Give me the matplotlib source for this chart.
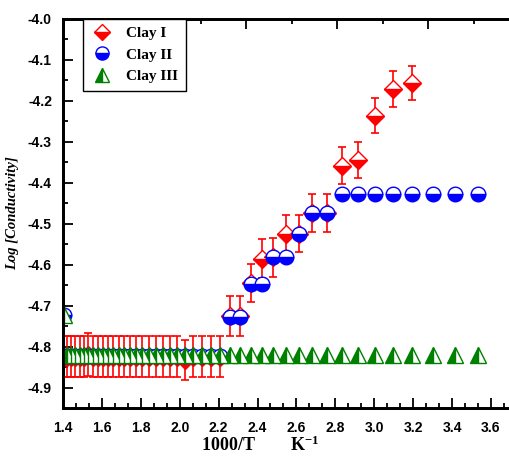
import matplotlib
matplotlib.use('Agg')
import matplotlib.pyplot as plt
from matplotlib.ticker import MultipleLocator, AutoMinorLocator, FormatStrFormatter

# 1000/T values (K^-1)
inv_t = [1.403, 1.422, 1.443, 1.464, 1.486, 1.508, 1.531, 1.555, 1.580, 1.605,
         1.631, 1.658, 1.686, 1.715, 1.745, 1.776, 1.808, 1.842, 1.876, 1.912,
         1.949, 1.988, 2.028, 2.070, 2.114, 2.160, 2.208, 2.257, 2.309, 2.364,
         2.421, 2.481, 2.545, 2.611, 2.681, 2.755, 2.833, 2.915, 3.003, 3.096,
         3.195, 3.300, 3.413, 3.534]

clay1_y = [-4.825, -4.825, -4.825, -4.825, -4.825, -4.825, -4.820, -4.825, -4.825, -4.825,
           -4.825, -4.825, -4.825, -4.825, -4.825, -4.825, -4.825, -4.825, -4.825, -4.825,
           -4.825, -4.825, -4.832, -4.825, -4.825, -4.825, -4.825, -4.725, -4.725, -4.645,
           -4.585, -4.582, -4.524, -4.524, -4.474, -4.474, -4.358, -4.344, -4.236, -4.171,
           -4.157]
clay1_err = [0.05, 0.05, 0.05, 0.05, 0.05, 0.05, 0.052, 0.05, 0.05, 0.05,
             0.05, 0.05, 0.05, 0.05, 0.05, 0.05, 0.05, 0.05, 0.05, 0.05,
             0.05, 0.05, 0.049, 0.05, 0.05, 0.05, 0.05, 0.048, 0.048, 0.047,
             0.047, 0.047, 0.046, 0.046, 0.046, 0.046, 0.045, 0.044, 0.043, 0.043,
             0.042]

clay2_y = [-4.722, -4.823, -4.823, -4.823, -4.823, -4.823, -4.823, -4.823, -4.823, -4.823,
           -4.823, -4.823, -4.823, -4.823, -4.823, -4.823, -4.823, -4.823, -4.823, -4.823,
           -4.823, -4.823, -4.823, -4.823, -4.823, -4.823, -4.823, -4.728, -4.728, -4.646,
           -4.646, -4.582, -4.582, -4.524, -4.474, -4.474, -4.427, -4.427, -4.427, -4.427,
           -4.427, -4.427, -4.427, -4.427]

clay3_y = [-4.722, -4.820, -4.820, -4.820, -4.820, -4.820, -4.820, -4.820, -4.820, -4.820,
           -4.820, -4.820, -4.820, -4.820, -4.820, -4.820, -4.820, -4.820, -4.820, -4.820,
           -4.820, -4.820, -4.820, -4.820, -4.820, -4.820, -4.820, -4.820, -4.820, -4.820,
           -4.820, -4.820, -4.820, -4.820, -4.820, -4.820, -4.820, -4.820, -4.820, -4.820,
           -4.820, -4.820, -4.820, -4.820]

labels = ['Clay I', 'Clay II', 'Clay III']
top_major = [1.403, 1.871, 2.341, 2.810, 3.278]
top_minor = [1.639, 2.108, 2.576, 3.044, 3.513]

plt.rcParams['font.family'] = 'Liberation Sans'
plt.rcParams['font.weight'] = 'bold'
plt.rcParams['axes.unicode_minus'] = False
plt.rcParams['mathtext.fontset'] = 'custom'
plt.rcParams['mathtext.rm'] = 'Liberation Serif:bold'
plt.rcParams['mathtext.it'] = 'Liberation Serif:bold'
plt.rcParams['mathtext.bf'] = 'Liberation Serif:bold'
plt.rcParams['mathtext.default'] = 'rm'

fig = plt.figure(figsize=(5.1, 4.65), dpi=100)
ax = fig.add_axes([63/510, 57/465, 447/510, 389/465])

n1 = len(clay1_y)
ax.errorbar(inv_t[:n1], clay1_y, yerr=clay1_err, fmt='none', ecolor='red',
            elinewidth=1.2, capsize=3, capthick=1.2, zorder=2)
h1, = ax.plot(inv_t[:n1], clay1_y, ls='none', marker='D', ms=9, fillstyle='bottom',
              mfc='red', mfcalt='white', mec='red', mew=1, zorder=3)
h2, = ax.plot(inv_t, clay2_y, ls='none', marker='o', ms=10.5, fillstyle='bottom',
              mfc='blue', mfcalt='white', mec='blue', mew=1, zorder=4)
h3, = ax.plot(inv_t, clay3_y, ls='none', marker='^', ms=11, fillstyle='left',
              mfc='green', mfcalt='white', mec='green', mew=1, zorder=5)

ax.set_xlim(1.4, 3.698)
ax.set_ylim(-4.95, -4.0)
ax.xaxis.set_major_locator(MultipleLocator(0.2))
ax.xaxis.set_minor_locator(AutoMinorLocator(3))
ax.yaxis.set_major_locator(MultipleLocator(0.1))
ax.yaxis.set_minor_locator(AutoMinorLocator(2))
ax.xaxis.set_major_formatter(FormatStrFormatter('%.1f'))
ax.yaxis.set_major_formatter(FormatStrFormatter('%.1f'))
ax.tick_params(which='major', direction='in', length=7, width=1.3, labelsize=10)
ax.tick_params(which='minor', direction='in', length=3.5, width=1.3)
ax.tick_params(axis='x', pad=9)
ax.tick_params(axis='y', pad=8)
ax.spines['right'].set_visible(False)
for s in ['left', 'bottom', 'top']:
    ax.spines[s].set_linewidth(2)

ax_top = ax.twiny()
ax_top.set_xlim(ax.get_xlim())
ax_top.set_xticks(top_major)
ax_top.set_xticks(top_minor, minor=True)
ax_top.tick_params(which='major', direction='in', length=7, width=1.3, labeltop=False)
ax_top.tick_params(which='minor', direction='in', length=3.5, width=1.3)
ax_top.spines['right'].set_visible(False)
for s in ['left', 'bottom', 'top']:
    ax_top.spines[s].set_linewidth(2)

ax.set_xlabel('1000/T        K$^{-1}$', family='Liberation Serif', fontsize=13, fontweight='bold')
ax.xaxis.set_label_coords(0.44, -0.07)
ax.set_ylabel('Log [Conductivity]', family='Liberation Serif', fontsize=10.5,
              fontweight='bold', fontstyle='italic')
ax.yaxis.set_label_coords(-0.098, 0.5)

leg = ax_top.legend([h1, h2, h3], labels, loc='upper left', bbox_to_anchor=(0.045, 1.0),
                    borderaxespad=0, fancybox=False, framealpha=1, edgecolor='black',
                    prop={'family': 'Liberation Serif', 'weight': 'bold', 'size': 11},
                    markerscale=0.9, handlelength=1.5, handletextpad=0.8,
                    labelspacing=0.5, borderpad=0.5)
leg.get_frame().set_linewidth(1)

fig.savefig('out.png', dpi=100)
